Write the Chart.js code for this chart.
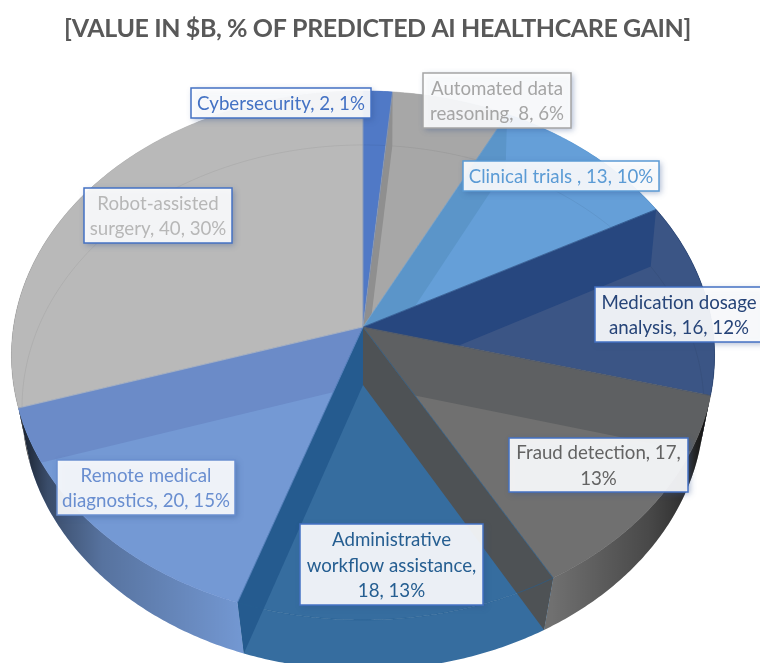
<!DOCTYPE html>
<html>
<head>
<meta charset="utf-8">
<title>Predicted AI healthcare gain</title>
<script src="https://cdn.jsdelivr.net/npm/chart.js@4"></script>
<style>
  html, body { margin: 0; padding: 0; background: #fff; overflow: hidden; }
  canvas { display: block; }
</style>
</head>
<body>
<canvas id="pie" width="760" height="663"></canvas>
<script>
// data
const categories = ['Cybersecurity', 'Automated data reasoning', 'Clinical trials ', 'Medication dosage analysis',
  'Fraud detection', 'Administrative workflow assistance', 'Remote medical diagnostics', 'Robot-assisted surgery'];
const values = [2, 8, 13, 16, 17, 18, 20, 40];
const percents = [1, 6, 10, 12, 13, 13, 15, 30];
const titleText = '[VALUE IN $B, % OF PREDICTED AI HEALTHCARE GAIN]';

// colours
const baseColors = ['#4472c4', '#a5a5a5', '#5b9bd5', '#264478', '#636363', '#255e91', '#698ed0', '#b7b7b7'];
const topColors = ['#5079c6', '#a7a7a7', '#659fd8', '#3b5585', '#707070', '#366d9f', '#7499d4', '#b9b9b9'];
const borderColors = ['#4472c4', '#a5a5a5', '#5b9bd5', '#4472c4', '#4472c4', '#4472c4', '#698ed0', '#4472c4'];
// inner radial walls seen through the glass top: [slice whose start edge it is, colour, clip to that slice]
const innerWalls = [
  [1, '#8f8f8f', 1], [2, '#5b95c9', 2], [3, '#27477f', 3], [4, '#5e6062', 4],
  [5, '#4e5255', -1], [6, '#255b8f', -1], [7, '#6b8bc8', 6]
];
// label boxes: x, y, w, h
const labelBoxes = [
  [191, 88, 180, 30], [423, 73, 148, 55], [463, 161, 196, 30], [595, 287, 168, 55],
  [509, 438, 179, 54], [300, 524, 183, 81], [57, 460, 178, 55], [84, 188, 148, 55]
];

// perspective of the top and the bottom disc
const topDisc = { cx: 363, cy: 327, A: 349.5, B: 261.4, k: 0.1077 };
const botDisc = { cx: 363, cy: 385, A: 339.7, B: 260.6, k: 0.0857 };

function project(disc, angle) {
  const u = Math.sin(angle), v = Math.cos(angle), w = 1 + disc.k * v;
  return [disc.cx + disc.A * u / w, disc.cy - disc.B * v / w];
}

function traceArc(ctx, disc, from, to) {
  const n = Math.max(2, Math.ceil(Math.abs(to - from) / 0.01));
  for (let i = 0; i <= n; i++) {
    const p = project(disc, from + (to - from) * i / n);
    ctx.lineTo(p[0], p[1]);
  }
}

function traceSector(ctx, a0, a1) {
  ctx.beginPath();
  ctx.moveTo(topDisc.cx, topDisc.cy);
  traceArc(ctx, topDisc, a0, a1);
  ctx.closePath();
}

function wrapLines(ctx, text, maxWidth) {
  const lines = [];
  let line = '';
  text.split(' ').forEach(word => {
    const next = line ? line + ' ' + word : word;
    if (line && ctx.measureText(next).width > maxWidth) {
      lines.push(line);
      line = word;
    } else {
      line = next;
    }
  });
  lines.push(line);
  return lines;
}

// paints the arcs the pie controller laid out through the disc projection
const glassPie = {
  id: 'glassPie',
  beforeDraw(chart) {
    chart.ctx.letterSpacing = '-0.4px';   // tighter title, Calibri-like
  },
  beforeDatasetsDraw(chart) {
    const ctx = chart.ctx;
    ctx.letterSpacing = '0px';
    const arcs = chart.getDatasetMeta(0).data;
    const ang = arcs.map(a => [a.startAngle + Math.PI / 2, a.endAngle + Math.PI / 2]);
    ctx.save();

    // outer wall
    ang.forEach((a, i) => {
      ctx.beginPath();
      const s = project(topDisc, a[0]);
      ctx.moveTo(s[0], s[1]);
      traceArc(ctx, topDisc, a[0], a[1]);
      traceArc(ctx, botDisc, a[1], a[0]);
      ctx.closePath();
      ctx.fillStyle = topColors[i];
      ctx.fill();
      const shade = ctx.createLinearGradient(20, 0, 710, 0);
      shade.addColorStop(0, 'rgba(0,0,0,0.8)');
      shade.addColorStop(0.04, 'rgba(0,0,0,0.5)');
      shade.addColorStop(0.12, 'rgba(0,0,0,0.25)');
      shade.addColorStop(0.33, 'rgba(0,0,0,0)');
      shade.addColorStop(0.77, 'rgba(0,0,0,0)');
      shade.addColorStop(0.91, 'rgba(0,0,0,0.35)');
      shade.addColorStop(0.97, 'rgba(0,0,0,0.6)');
      shade.addColorStop(1, 'rgba(0,0,0,0.9)');
      ctx.fillStyle = shade;
      ctx.fill();
    });

    // top faces
    ang.forEach((a, i) => {
      traceSector(ctx, a[0], a[1]);
      ctx.fillStyle = topColors[i];
      ctx.fill();
    });

    // far rim of the bottom disc, faint through the top
    ctx.beginPath();
    traceArc(ctx, botDisc, -1.78, 1.83);
    ctx.strokeStyle = 'rgba(0,0,0,0.055)';
    ctx.lineWidth = 1;
    ctx.stroke();

    // radial walls
    innerWalls.forEach(w => {
      const a = ang[w[0]][0];
      ctx.save();
      if (w[2] >= 0) {
        traceSector(ctx, ang[w[2]][0], ang[w[2]][1]);
        ctx.clip();
      }
      const t = project(topDisc, a), b = project(botDisc, a);
      ctx.beginPath();
      ctx.moveTo(topDisc.cx, topDisc.cy);
      ctx.lineTo(t[0], t[1]);
      ctx.lineTo(b[0], b[1]);
      ctx.lineTo(botDisc.cx, botDisc.cy);
      ctx.closePath();
      ctx.fillStyle = w[1];
      ctx.fill();
      ctx.restore();
    });

    // thin edge of each slice
    ang.forEach((a, i) => {
      traceSector(ctx, a[0], a[1]);
      ctx.strokeStyle = baseColors[i];
      ctx.globalAlpha = 0.75;
      ctx.lineWidth = 0.8;
      ctx.stroke();
      ctx.globalAlpha = 1;
    });
    ctx.restore();
    return false;
  },
  afterDraw(chart) {
    const ctx = chart.ctx;
    ctx.save();
    ctx.font = '18.7px Lato';
    ctx.textAlign = 'center';
    ctx.textBaseline = 'middle';
    categories.forEach((name, i) => {
      const [x, y, w, h] = labelBoxes[i];
      ctx.save();
      ctx.shadowColor = 'rgba(50,80,140,0.45)';
      ctx.shadowBlur = 6;
      ctx.shadowOffsetX = 2;
      ctx.shadowOffsetY = 2;
      ctx.fillStyle = 'rgba(255,255,255,0.9)';
      ctx.fillRect(x, y, w, h);
      ctx.restore();
      ctx.strokeStyle = borderColors[i];
      ctx.lineWidth = 1.5;
      ctx.strokeRect(x, y, w, h);
      const lines = wrapLines(ctx, `${name}, ${values[i]}, ${percents[i]}%`, w - 2);
      ctx.fillStyle = baseColors[i];
      lines.forEach((l, n) => {
        ctx.fillText(l, x + w / 2, y + h / 2 + 1 + (n - (lines.length - 1) / 2) * 25.5);
      });
    });
    ctx.restore();
  }
};

new Chart(document.getElementById('pie').getContext('2d'), {
  type: 'pie',
  data: {
    labels: categories,
    datasets: [{ data: values, backgroundColor: baseColors, borderWidth: 0 }]
  },
  options: {
    responsive: false,
    animation: false,
    layout: { padding: { right: 5 } },
    plugins: {
      legend: { display: false },
      tooltip: { enabled: false },
      title: {
        display: true,
        text: titleText,
        color: '#595959',
        font: { family: 'Lato', size: 25, weight: 'bold' },
        padding: { top: 14, bottom: 20 }
      }
    }
  },
  plugins: [glassPie]
});
</script>
</body>
</html>
